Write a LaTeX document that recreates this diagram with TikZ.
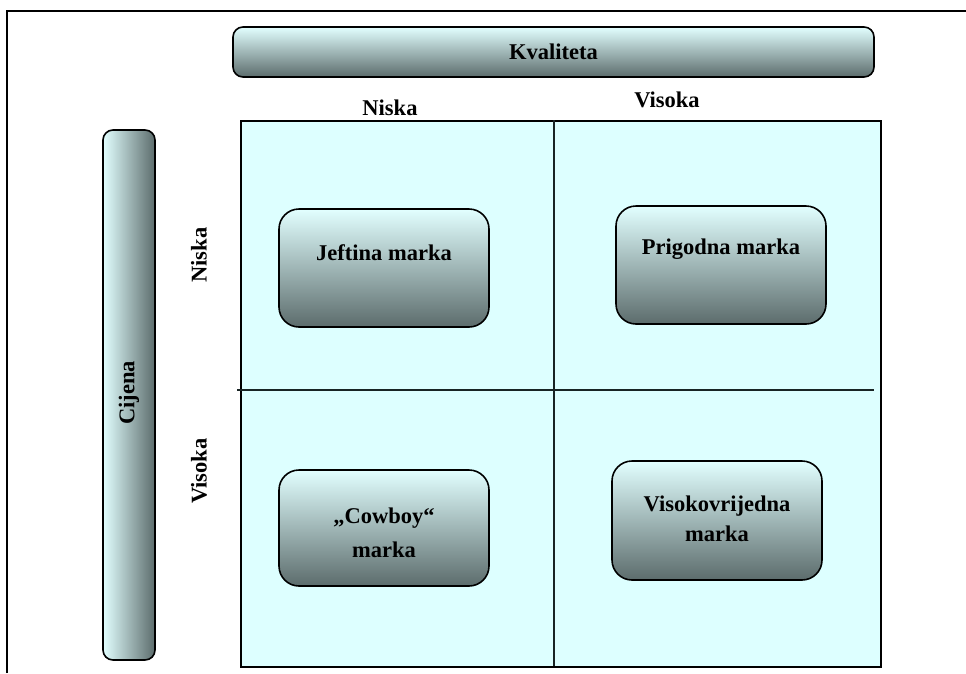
\documentclass[tikz,border=0pt]{standalone}
\usepackage{fontspec}
\setmainfont{Liberation Serif}
\begin{document}
\begin{tikzpicture}[x=1pt,y=-1pt,
  txt/.style={font=\fontsize{22.5}{30}\selectfont\bfseries, inner sep=0pt, align=center, text=black},
  cellbox/.style={draw=black, line width=1.6pt, rounded corners=20pt, top color=boxtop, bottom color=boxbot, minimum width=210pt, minimum height=118pt, inner sep=0pt},
  hbar/.style={draw=black, line width=1.6pt, rounded corners=10pt, top color=boxtop, bottom color=boxbot, inner sep=0pt},
  vbar/.style={draw=black, line width=1.6pt, rounded corners=10pt, left color=boxtop, right color=boxbot, inner sep=0pt},
  divider/.style={draw=divcol, line width=2pt}
]
\definecolor{boxtop}{RGB}{226,255,255}
\definecolor{boxbot}{RGB}{92,108,108}
\definecolor{cellfill}{RGB}{221,255,255}
\definecolor{divcol}{RGB}{24,36,36}
\useasboundingbox (0,0) rectangle (966,673);
% outer frame (top and left only)
\coordinate (ftl) at (7,11);
\coordinate (ftr) at (966,11);
\coordinate (fbl) at (7,673);
\draw[line width=2.2pt] (fbl) -- (ftl) -- (ftr);
% matrix
\node[draw=black, fill=cellfill, line width=2pt, minimum width=640pt, minimum height=546pt, inner sep=0pt, anchor=north west] (grid) at (240,120) {};
\coordinate (vt) at (553.5,120);
\coordinate (vb) at (553.5,666);
\coordinate (hl) at (237,390);
\coordinate (hr) at (874,390);
\draw[divider] (vt) -- (vb);
\draw[divider] (hl) -- (hr);
% bars
\node[hbar, minimum width=641pt, minimum height=50pt] (kval) at (553.5,52) {};
\node[txt] (kvaltxt) at (kval.center) {Kvaliteta};
\node[vbar, minimum width=52pt, minimum height=530pt] (cij) at (129,395) {};
\node[txt, rotate=90] (cijtxt) at (129,393) {Cijena};
% axis labels
\node[txt] (qniska) at (390,108) {Niska};
\node[txt] (qvisoka) at (667,100) {Visoka};
\node[txt, rotate=90] (pniska) at (199,255) {Niska};
\node[txt, rotate=90] (pvisoka) at (199,471) {Visoka};
% boxes
\node[cellbox] (jef) at (384,268) {};
\node[txt] (jeftxt) at (384,253) {Jeftina marka};
\node[cellbox] (pri) at (721,265) {};
\node[txt] (pritxt) at (721,249) {Prigodna marka};
\node[cellbox, minimum height=116pt] (cow) at (384,528) {};
\node[txt] (cowtxt) at (384,533) {„Cowboy“\\[4pt]marka};
\node[cellbox, minimum height=119pt] (vis) at (717,520.5) {};
\node[txt] (vistxt) at (717,519) {Visokovrijedna\\marka};
\end{tikzpicture}
\end{document}
